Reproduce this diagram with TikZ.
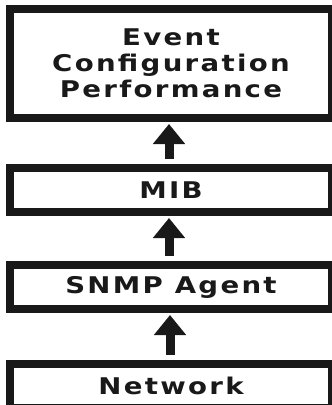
\documentclass[tikz,border=0pt]{standalone}
\usepackage{fontspec}
\newfontfamily\layerfont[LetterSpace=10, FakeStretch=1.2, UprightFont={DejaVu Sans Bold}]{DejaVu Sans}
\usepackage{tikz}
\usetikzlibrary{arrows.meta, positioning}

\begin{document}
\begin{tikzpicture}[
  layerbox/.style={rectangle, draw=black!90, line width=8pt, fill=white,
    minimum width=322pt, minimum height=44pt, inner sep=0pt, align=center,
    text=black!90, font=\layerfont\fontsize{23}{26}\selectfont},
  uparr/.style={-{Triangle[length=20pt, width=31pt]}, line width=9pt, black!90,
    shorten <=5pt, shorten >=2pt}
]
\clip (0,0) rectangle (332pt,-405pt);

% ===== CAMADAS =====
\node[layerbox, minimum height=109pt] (ev) at (171pt,-63.5pt)
  {Event\\Configuration\\Performance};
\node[layerbox, below=42pt of ev] (mib) {MIB};
\node[layerbox, below=45pt of mib] (agent) {SNMP Agent};
\node[layerbox, below=47pt of agent] (net) {Network};

% ===== SETAS =====
\draw[uparr] ([xshift=-2pt]mib.north) -- ([xshift=-2pt]ev.south);
\draw[uparr] ([xshift=-2pt]agent.north) -- ([xshift=-2pt]mib.south);
\draw[uparr] ([xshift=-1pt]net.north) -- ([xshift=-1pt]agent.south);
\end{tikzpicture}
\end{document}
